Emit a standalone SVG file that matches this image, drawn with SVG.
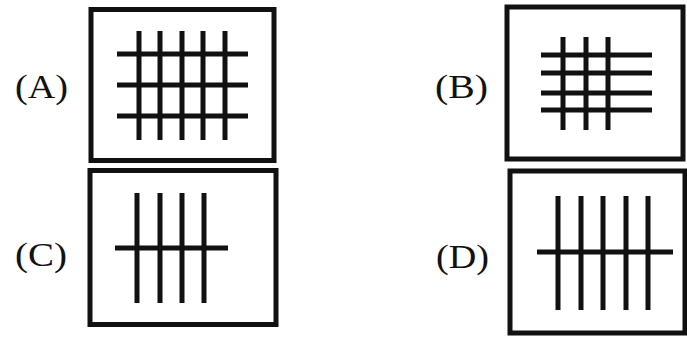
<svg xmlns="http://www.w3.org/2000/svg" width="687" height="337" viewBox="0 0 687 337">
<style>
.frame{fill:none;stroke:#111;stroke-width:5}
.bar{stroke:#111;stroke-width:5;stroke-linecap:butt}
.lbl{font-family:"Liberation Serif","Times New Roman",serif;font-size:33px;fill:#111}
</style>
<rect width="687" height="337" fill="#fff"/>
<g id="A">
<rect class="frame" x="91" y="9.5" width="183" height="151"/>
<g class="bar">
<line x1="139" y1="31" x2="139" y2="140"/><line x1="160" y1="31" x2="160" y2="140"/><line x1="182" y1="31" x2="182" y2="140"/><line x1="203" y1="31" x2="203" y2="140"/><line x1="225" y1="31" x2="225" y2="140"/>
<line x1="117" y1="54" x2="248" y2="54"/><line x1="117" y1="85" x2="248" y2="85"/><line x1="117" y1="116" x2="248" y2="116"/>
</g>
<text class="lbl" x="15" y="98" textLength="53" lengthAdjust="spacingAndGlyphs">(A)</text>
</g>
<g id="B">
<rect class="frame" x="507" y="7" width="176" height="152"/>
<g class="bar">
<line x1="563" y1="37" x2="563" y2="130"/><line x1="586" y1="37" x2="586" y2="130"/><line x1="608" y1="37" x2="608" y2="130"/>
<line x1="541" y1="55" x2="652" y2="55"/><line x1="541" y1="73" x2="652" y2="73"/><line x1="541" y1="93" x2="652" y2="93"/><line x1="541" y1="110" x2="652" y2="110"/>
</g>
<text class="lbl" x="435" y="98" textLength="53" lengthAdjust="spacingAndGlyphs">(B)</text>
</g>
<g id="C">
<rect class="frame" x="90" y="170.5" width="186" height="154"/>
<g class="bar">
<line x1="137" y1="193" x2="137" y2="303"/><line x1="160" y1="193" x2="160" y2="303"/><line x1="182" y1="193" x2="182" y2="303"/><line x1="204" y1="193" x2="204" y2="303"/>
<line x1="115" y1="248" x2="228" y2="248"/>
</g>
<text class="lbl" x="15" y="266" textLength="52" lengthAdjust="spacingAndGlyphs">(C)</text>
</g>
<g id="D">
<rect class="frame" x="510" y="171" width="175" height="162"/>
<g class="bar">
<line x1="558" y1="196" x2="558" y2="310"/><line x1="581" y1="196" x2="581" y2="310"/><line x1="603" y1="196" x2="603" y2="310"/><line x1="626" y1="196" x2="626" y2="310"/><line x1="648" y1="196" x2="648" y2="310"/>
<line x1="537" y1="252" x2="673" y2="252"/>
</g>
<text class="lbl" x="436" y="268" textLength="53" lengthAdjust="spacingAndGlyphs">(D)</text>
</g>
<g id="connectors"/>
</svg>
